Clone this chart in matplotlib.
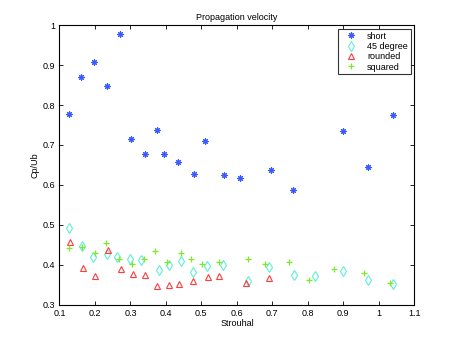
import matplotlib
matplotlib.use('Agg')
import matplotlib.pyplot as plt
from matplotlib.ticker import FuncFormatter

# data
short_x = [0.127, 0.161, 0.198, 0.234, 0.270, 0.302, 0.341, 0.375, 0.396, 0.434,
           0.479, 0.510, 0.563, 0.608, 0.697, 0.759, 0.899, 0.970, 1.040]
short_y = [0.778, 0.871, 0.908, 0.847, 0.977, 0.714, 0.677, 0.737, 0.677, 0.657,
           0.627, 0.710, 0.624, 0.617, 0.637, 0.587, 0.735, 0.645, 0.776]

deg45_x = [0.128, 0.165, 0.195, 0.234, 0.262, 0.300, 0.329, 0.381, 0.410, 0.444,
           0.477, 0.515, 0.562, 0.630, 0.690, 0.761, 0.820, 0.900, 0.970, 1.039]
deg45_y = [0.493, 0.448, 0.418, 0.426, 0.420, 0.413, 0.412, 0.387, 0.398, 0.408,
           0.382, 0.397, 0.398, 0.359, 0.395, 0.375, 0.372, 0.384, 0.361, 0.352]

round_x = [0.129, 0.166, 0.201, 0.236, 0.274, 0.308, 0.341, 0.374, 0.409, 0.437,
           0.476, 0.520, 0.551, 0.625, 0.690]
round_y = [0.457, 0.392, 0.372, 0.437, 0.389, 0.377, 0.373, 0.347, 0.350, 0.351,
           0.359, 0.368, 0.371, 0.354, 0.367]

square_x = [0.128, 0.163, 0.199, 0.231, 0.269, 0.304, 0.339, 0.368, 0.403, 0.444,
            0.471, 0.501, 0.551, 0.631, 0.679, 0.748, 0.803, 0.874, 0.958, 1.031]
square_y = [0.441, 0.444, 0.430, 0.455, 0.413, 0.401, 0.413, 0.435, 0.406, 0.429,
            0.413, 0.402, 0.406, 0.413, 0.401, 0.407, 0.361, 0.388, 0.379, 0.354]

xticks = [0.1, 0.2, 0.3, 0.4, 0.5, 0.6, 0.7, 0.8, 0.9, 1.0, 1.1]
yticks = [0.3, 0.4, 0.5, 0.6, 0.7, 0.8, 0.9, 1.0]

plt.rcParams['font.family'] = ['Liberation Sans', 'DejaVu Sans']
fs = 6.5

fig = plt.figure(figsize=(4.57, 3.43), dpi=100)
ax = fig.add_axes([0.13, 0.112, 0.7766, 0.8145])

ax.plot(short_x, short_y, linestyle='none', marker=(8, 2, 0), markersize=4.5,
        color='#3a5cff', markeredgewidth=0.8, label='short')
ax.plot(deg45_x, deg45_y, linestyle='none', marker='d', markersize=5,
        markerfacecolor='none', markeredgecolor='#5ef0d8', markeredgewidth=0.8,
        label='45 degree')
ax.plot(round_x, round_y, linestyle='none', marker='^', markersize=5,
        markerfacecolor='none', markeredgecolor='#ff3b3b', markeredgewidth=0.8,
        label='rounded')
ax.plot(square_x, square_y, linestyle='none', marker='+', markersize=5,
        color='#7fe82a', markeredgewidth=0.9, label='squared')

ax.set_xlim(0.1, 1.1)
ax.set_ylim(0.3, 1.0)
ax.set_xticks(xticks)
ax.set_yticks(yticks)
fmt = FuncFormatter(lambda v, p: ('%g' % round(v, 2)))
ax.xaxis.set_major_formatter(fmt)
ax.yaxis.set_major_formatter(fmt)
ax.tick_params(direction='in', top=True, right=True, labelsize=fs,
               length=3, width=0.6, pad=3)
for s in ax.spines.values():
    s.set_linewidth(0.8)

ax.set_title('Propagation velocity', fontsize=fs, pad=4)
ax.set_xlabel('Strouhal', fontsize=fs, labelpad=1)
ax.set_ylabel('Cp/Ub', fontsize=fs, labelpad=2)

leg = ax.legend(loc='upper right', fontsize=fs, frameon=True, fancybox=False,
                edgecolor='black', borderaxespad=0.4, handlelength=2.2,
                handletextpad=0.7, borderpad=0.3, labelspacing=0.15)
leg.get_frame().set_linewidth(0.8)

fig.savefig('out.png', dpi=100)
